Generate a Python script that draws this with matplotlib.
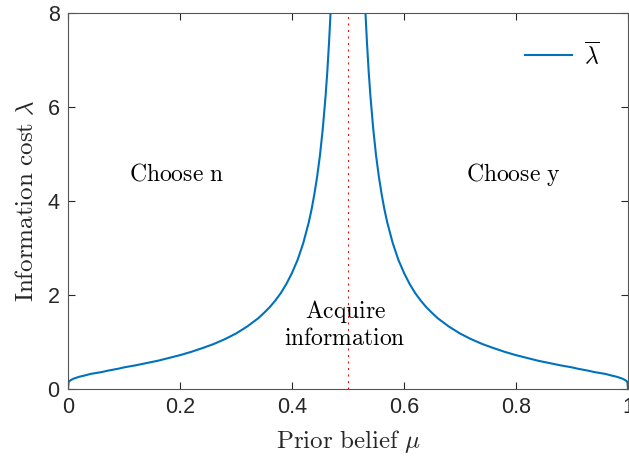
import matplotlib.pyplot as plt

plt.rcParams['mathtext.fontset'] = 'cm'
plt.rcParams['font.family'] = 'Liberation Sans'

# left branch (mu < 0.5)
mu_left = [0, 0.001, 0.002, 0.003, 0.005, 0.01, 0.02, 0.03, 0.04, 0.05, 0.06, 0.07,
           0.08, 0.09, 0.10, 0.12, 0.14, 0.16, 0.18, 0.20, 0.22, 0.24, 0.26, 0.28,
           0.30, 0.32, 0.34, 0.35, 0.36, 0.37, 0.38, 0.39, 0.40, 0.41, 0.42, 0.43,
           0.435, 0.44, 0.445, 0.45, 0.455, 0.46, 0.463, 0.466, 0.468, 0.47]
lam_left = [0, 0.145, 0.16, 0.172, 0.19, 0.22, 0.26, 0.288, 0.32, 0.34, 0.36, 0.387,
            0.41, 0.432, 0.46, 0.502, 0.551, 0.60, 0.66, 0.72, 0.79, 0.87, 0.956, 1.06,
            1.18, 1.33, 1.508, 1.62, 1.738, 1.879, 2.04, 2.236, 2.47, 2.747, 3.10, 3.548,
            3.824, 4.15, 4.527, 4.98, 5.541, 6.24, 6.743, 7.345, 7.805, 8.33]
# right branch (mu > 0.5)
mu_right = [0.53, 0.532, 0.534, 0.537, 0.54, 0.545, 0.55, 0.555, 0.56, 0.565, 0.57,
            0.58, 0.59, 0.60, 0.61, 0.62, 0.63, 0.64, 0.65, 0.66, 0.68, 0.70, 0.72,
            0.74, 0.76, 0.78, 0.80, 0.82, 0.84, 0.86, 0.88, 0.90, 0.91, 0.92, 0.93,
            0.94, 0.95, 0.96, 0.97, 0.98, 0.99, 0.995, 0.997, 0.998, 0.999, 1]
lam_right = [8.33, 7.805, 7.345, 6.743, 6.24, 5.541, 4.98, 4.527, 4.15, 3.824, 3.548,
             3.10, 2.747, 2.47, 2.236, 2.04, 1.879, 1.738, 1.62, 1.508, 1.33, 1.18, 1.06,
             0.956, 0.87, 0.79, 0.72, 0.66, 0.60, 0.551, 0.502, 0.46, 0.432, 0.41, 0.387,
             0.36, 0.34, 0.32, 0.288, 0.26, 0.22, 0.19, 0.172, 0.16, 0.145, 0]

fig = plt.figure(figsize=(6.29, 4.57), dpi=100)
ax = fig.add_axes([68/629, 1-389/457, 560/629, 376/457])

blue = '#0072BD'
ax.plot(mu_left, lam_left, color=blue, lw=1.5, label=r'$\overline{\lambda}$')
ax.plot(mu_right, lam_right, color=blue, lw=1.5)
ax.axvline(0.5, color='red', ls=(0, (2, 4.5)), lw=0.72)

ax.set_xlim(0, 1)
ax.set_ylim(0, 8)
ax.set_xticks([0, 0.2, 0.4, 0.6, 0.8, 1])
ax.set_xticklabels(['0', '0.2', '0.4', '0.6', '0.8', '1'])
ax.set_yticks([0, 2, 4, 6, 8])
ax.tick_params(direction='in', length=5, width=0.8, top=True, right=True,
               labelsize=15.5, colors='#262626', pad=6)
for s in ax.spines.values():
    s.set_color('#555555')
    s.set_linewidth(0.8)

ax.set_xlabel(r'$\mathrm{Prior\ belief}\ \mu$', fontsize=18, color='#262626', labelpad=7)
ax.set_ylabel(r'$\mathrm{Information\ cost}\ \lambda$', fontsize=18, color='#262626', labelpad=7)

ax.text(0.193, 4.57, r'$\mathrm{Choose\ n}$', fontsize=17, ha='center', va='center')
ax.text(0.795, 4.57, r'$\mathrm{Choose\ y}$', fontsize=17, ha='center', va='center')
ax.text(0.495, 1.38, '$\\mathrm{Acquire}$\n$\\mathrm{information}$', fontsize=17,
        ha='center', va='center', linespacing=1.15)

ax.legend(loc='upper right', frameon=False, fontsize=17, handlelength=2.0,
          handletextpad=0.5, borderaxespad=0.8)

fig.savefig('out.png', dpi=100)
